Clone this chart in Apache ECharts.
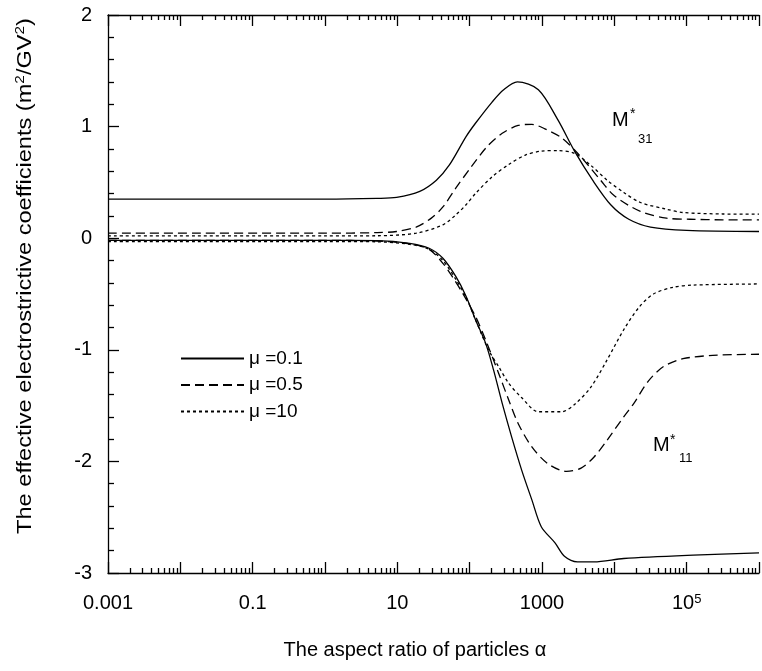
<!DOCTYPE html>
<html>
<head>
<meta charset="utf-8">
<script src="https://cdn.jsdelivr.net/npm/echarts@6/dist/echarts.min.js"></script>
<style>
  html, body { margin: 0; padding: 0; background: #fff; }
  #chart { width: 762px; height: 671px; }
</style>
</head>
<body>
<div id="chart"></div>
<script>
  // x values are log10(alpha)
  var m31_01_x = [-3, 0, 0.72, 0.99, 1.31, 1.54, 1.72, 1.95, 2.08, 2.31, 2.47, 2.66, 2.95, 3.22, 3.45, 3.7, 3.95, 4.2, 4.5, 5.0, 6.0];
  var m31_01_y = [0.35, 0.35, 0.357, 0.366, 0.42, 0.52, 0.656, 0.91, 1.03, 1.22, 1.33, 1.40, 1.33, 1.06, 0.78, 0.52, 0.30, 0.17, 0.10, 0.07, 0.06];

  var m31_05_x = [-3, 0, 0.72, 0.99, 1.26, 1.47, 1.63, 1.81, 2.0, 2.24, 2.45, 2.67, 2.86, 3.04, 3.27, 3.45, 3.63, 3.81, 4.0, 4.36, 4.72, 5.04, 5.5, 6];
  var m31_05_y = [0.045, 0.045, 0.05, 0.06, 0.10, 0.18, 0.28, 0.45, 0.62, 0.82, 0.94, 1.01, 1.02, 0.98, 0.90, 0.79, 0.66, 0.52, 0.38, 0.24, 0.18, 0.17, 0.165, 0.165];

  var m31_10_x = [-3, 0, 0.72, 1.26, 1.63, 1.81, 1.95, 2.08, 2.31, 2.54, 2.77, 2.99, 3.22, 3.45, 3.68, 3.9, 4.13, 4.36, 4.72, 4.95, 5.5, 6];
  var m31_10_y = [0.02, 0.02, 0.022, 0.045, 0.12, 0.21, 0.30, 0.40, 0.55, 0.66, 0.745, 0.78, 0.785, 0.76, 0.65, 0.52, 0.41, 0.32, 0.26, 0.23, 0.217, 0.215];

  var m11_01_x = [-3, 0, 0.72, 1.17, 1.44, 1.63, 1.81, 1.95, 2.08, 2.22, 2.33, 2.45, 2.58, 2.72, 2.86, 2.99, 3.18, 3.31, 3.49, 3.72, 4.13, 5.09, 6];
  var m11_01_y = [-0.02, -0.02, -0.022, -0.046, -0.09, -0.18, -0.345, -0.52, -0.73, -0.94, -1.18, -1.48, -1.78, -2.08, -2.345, -2.585, -2.73, -2.85, -2.90, -2.90, -2.87, -2.84, -2.82];

  var m11_05_x = [-3, 0, 0.72, 1.17, 1.44, 1.63, 1.76, 1.90, 2.08, 2.22, 2.40, 2.54, 2.67, 2.86, 3.08, 3.34, 3.54, 3.72, 3.90, 4.13, 4.27, 4.47, 4.68, 4.95, 5.36, 6];
  var m11_05_y = [-0.02, -0.02, -0.025, -0.05, -0.10, -0.225, -0.345, -0.49, -0.70, -0.91, -1.21, -1.45, -1.66, -1.87, -2.02, -2.09, -2.06, -1.96, -1.81, -1.60, -1.48, -1.28, -1.15, -1.08, -1.05, -1.04];

  var m11_10_x = [-3, 0, 0.72, 1.17, 1.44, 1.63, 1.81, 1.95, 2.08, 2.26, 2.40, 2.54, 2.72, 2.95, 3.27, 3.45, 3.68, 3.90, 4.13, 4.34, 4.54, 4.81, 5.09, 6];
  var m11_10_y = [-0.03, -0.03, -0.032, -0.055, -0.10, -0.20, -0.37, -0.53, -0.73, -1.0, -1.15, -1.30, -1.43, -1.555, -1.555, -1.49, -1.33, -1.09, -0.82, -0.62, -0.50, -0.44, -0.42, -0.41];

  var muNames = ['μ =0.1', 'μ =0.5', 'μ =10'];
  var xTickLabels = { '-3': '0.001', '-1': '0.1', '1': '10', '3': '1000', '5': '10{sup|5}' };

  var FONT = 'Liberation Sans, Arial, Helvetica, sans-serif';

  function pairs(xs, ys) {
    return xs.map(function (x, i) { return [x, ys[i]]; });
  }

  // log minor tick positions 2..9 in every decade
  var minorVals = [];
  for (var d = -3; d < 6; d++) {
    for (var k = 2; k <= 9; k++) minorVals.push(d + Math.log10(k));
  }

  var styles = [
    { type: 'solid', width: 1.3 },
    { type: [9, 5], width: 1.3 },
    { type: [3, 3], width: 1.3 }
  ];

  function line(name, data, st) {
    return {
      name: name, type: 'line', data: data, symbol: 'none', smooth: 0.3,
      xAxisIndex: 0, yAxisIndex: 0,
      lineStyle: { color: '#000', width: st.width, type: st.type },
      itemStyle: { color: '#000' }
    };
  }

  var axisBase = {
    type: 'value', min: -3, max: 6, interval: 1,
    splitLine: { show: false }
  };
  var tickLine = { color: '#000', width: 1.3 };

  var chart = echarts.init(document.getElementById('chart'));
  chart.setOption({
    animation: false,
    backgroundColor: '#fff',
    grid: { left: 108, top: 15, right: -5, bottom: 98, containLabel: false },
    legend: {
      orient: 'vertical', left: 180, top: 349, padding: 0,
      data: muNames, selectedMode: false,
      itemWidth: 63, itemHeight: 14, itemGap: 7.5,
      itemStyle: { opacity: 0 },
      textStyle: { fontFamily: FONT, fontSize: 19, color: '#000', lineHeight: 18 }
    },
    xAxis: [
      Object.assign({}, axisBase, {
        position: 'bottom',
        axisLine: { show: true, onZero: false, lineStyle: tickLine },
        axisTick: { show: true, inside: true, length: 11, lineStyle: tickLine },
        axisLabel: {
          show: true, margin: 20, color: '#000', fontFamily: FONT, fontSize: 20,
          formatter: function (v) { return xTickLabels[String(Math.round(v))] || ''; },
          rich: {
            sup: { fontSize: 13, fontFamily: FONT, color: '#000', verticalAlign: 'top', lineHeight: 12 }
          }
        }
      }),
      Object.assign({}, axisBase, {
        position: 'bottom',
        axisLine: { show: false, onZero: false },
        axisTick: { show: true, inside: true, length: 5, customValues: minorVals, lineStyle: tickLine },
        axisLabel: { show: false }
      }),
      Object.assign({}, axisBase, {
        position: 'top',
        axisLine: { show: true, onZero: false, lineStyle: tickLine },
        axisTick: { show: true, inside: true, length: 11, lineStyle: tickLine },
        axisLabel: { show: false }
      }),
      Object.assign({}, axisBase, {
        position: 'top',
        axisLine: { show: false, onZero: false },
        axisTick: { show: true, inside: true, length: 5, customValues: minorVals, lineStyle: tickLine },
        axisLabel: { show: false }
      })
    ],
    yAxis: [{
      type: 'value', min: -3, max: 2, interval: 1,
      splitLine: { show: false },
      axisLine: { show: true, onZero: false, lineStyle: tickLine },
      axisTick: { show: true, inside: true, length: 11, lineStyle: tickLine },
      minorTick: { show: true, splitNumber: 5, length: 6, lineStyle: tickLine },
      axisLabel: { margin: 16, color: '#000', fontFamily: FONT, fontSize: 20 }
    }],
    graphic: [
      {
        type: 'text', x: 25, y: 276, rotation: Math.PI / 2, scaleX: 1.18,
        style: {
          text: '{n|The effective electrostrictive coefficients (m}{s|2}{n|/GV}{s|2}{n|)}',
          align: 'center', verticalAlign: 'middle',
          rich: {
            n: { fontFamily: FONT, fontSize: 20, fill: '#000', lineHeight: 22 },
            s: { fontFamily: FONT, fontSize: 13, fill: '#000', verticalAlign: 'top', lineHeight: 12 }
          }
        }
      },
      {
        type: 'text', x: 415, y: 650,
        style: { text: 'The aspect ratio of particles α', font: '20px ' + FONT, fill: '#000', align: 'center', verticalAlign: 'middle' }
      },
      { type: 'text', x: 612, y: 110, style: { text: 'M', font: '20px ' + FONT, fill: '#000' } },
      { type: 'text', x: 630, y: 107, style: { text: '*', font: '14px ' + FONT, fill: '#000' } },
      { type: 'text', x: 638, y: 133, style: { text: '31', font: '13px ' + FONT, fill: '#000' } },
      { type: 'text', x: 653, y: 435, style: { text: 'M', font: '20px ' + FONT, fill: '#000' } },
      { type: 'text', x: 670, y: 433, style: { text: '*', font: '14px ' + FONT, fill: '#000' } },
      { type: 'text', x: 679, y: 452, style: { text: '11', font: '13px ' + FONT, fill: '#000' } }
    ],
    series: [
      line(muNames[0], pairs(m31_01_x, m31_01_y), styles[0]),
      line(muNames[1], pairs(m31_05_x, m31_05_y), styles[1]),
      line(muNames[2], pairs(m31_10_x, m31_10_y), styles[2]),
      line(muNames[0], pairs(m11_01_x, m11_01_y), styles[0]),
      line(muNames[1], pairs(m11_05_x, m11_05_y), styles[1]),
      line(muNames[2], pairs(m11_10_x, m11_10_y), styles[2])
    ]
  });
</script>
</body>
</html>
